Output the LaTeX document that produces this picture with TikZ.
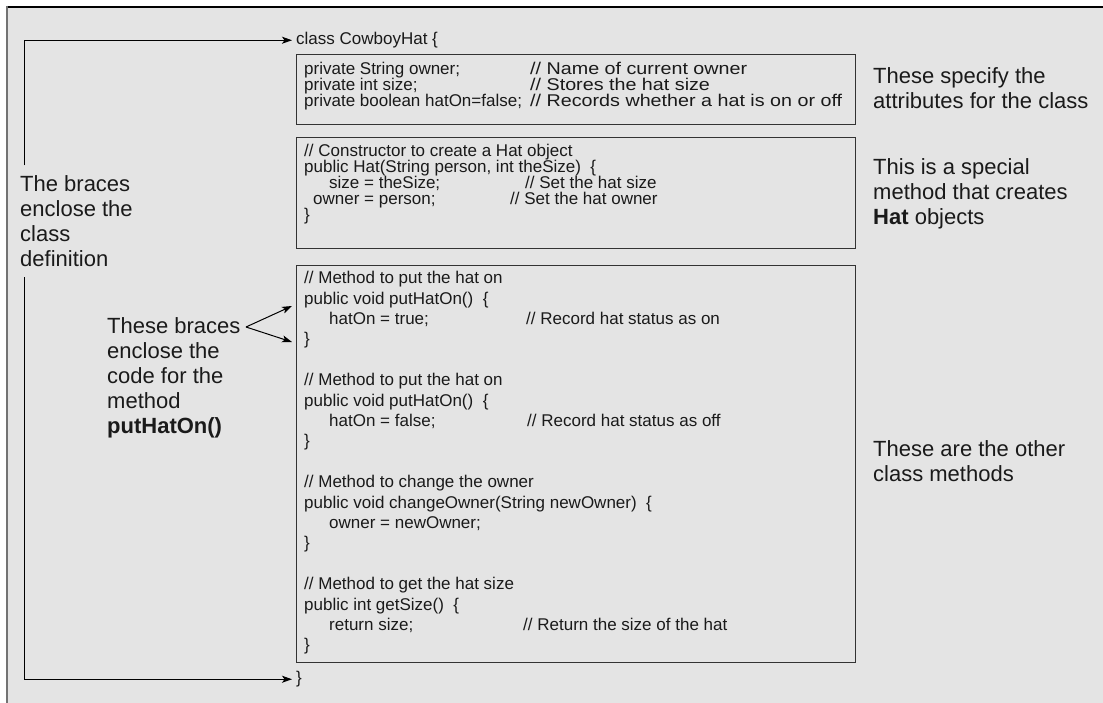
\documentclass[tikz,border=0pt]{standalone}
\usepackage{fontspec}
\setmainfont{Liberation Sans}
\newfontfamily\widecode[FakeStretch=1.16]{Liberation Sans}
\usetikzlibrary{arrows.meta}
\definecolor{bggray}{HTML}{E4E4E4}
\definecolor{ink}{HTML}{1A1A1A}
\begin{document}
\begin{tikzpicture}[x=1pt,y=-1pt,
  code/.style={anchor=mid west,inner sep=0pt,text=ink,font=\fontsize{17}{20}\selectfont},
  codew/.style={code,font=\widecode\fontsize{17}{20}\selectfont},
  lab/.style={anchor=north west,inner sep=0pt,align=left,text=ink,font=\fontsize{22}{25}\selectfont},
  codebox/.style={draw=black!80,line width=1pt,anchor=north west,inner sep=0pt,minimum width=559pt},
  arr/.style={-{Stealth[length=10pt,width=7pt,inset=2.5pt]},line width=1pt,black}]
\useasboundingbox (0,0) rectangle (1103,703);
\fill[white] (0,0) rectangle (1103,703);
\fill[bggray] (7,7) rectangle (1103,703);
\draw[black,line width=2pt] (6,7) -- (1103,7);
\draw[black!55,line width=2pt] (7,6) -- (7,703);

% code boxes
\node[codebox,minimum height=70pt] (attr) at (296,54) {};
\node[codebox,minimum height=111pt] (ctor) at (296,137) {};
\node[codebox,minimum height=397pt] (meth) at (296,265) {};

% class header / footer
\node[code] (cOpen) at (296,42) {class CowboyHat \{};
\node[code] (cClose) at (296,681) {\}};

% attributes
\node[code] (a1) at (304,72) {private String owner;};
\node[codew] (a1c) at (530,72) {// Name of current owner};
\node[code] (a2) at (304,88) {private int size;};
\node[codew] (a2c) at (530,88) {// Stores the hat size};
\node[code] (a3) at (304,104) {private boolean hatOn=false;};
\node[codew] (a3c) at (530,104) {// Records whether a hat is on or off};

% constructor
\node[code] (k1) at (304,154) {// Constructor to create a Hat object};
\node[code] (k2) at (304,170) {public Hat(String person, int theSize) ~\{};
\node[code] (k3) at (329,186) {size = theSize;};
\node[code] (k3c) at (525,186) {// Set the hat size};
\node[code] (k4) at (313,202) {owner = person;};
\node[code] (k4c) at (510,202) {// Set the hat owner};
\node[code] (k5) at (304,218) {\}};

% methods
\node[code] (m1) at (304,281) {// Method to put the hat on};
\node[code] (m2) at (304,301.4) {public void putHatOn() ~\{};
\node[code] (m3) at (329,321.8) {hatOn = true;};
\node[code] (m3c) at (526,321.8) {// Record hat status as on};
\node[code] (m4) at (304,342.2) {\}};
\node[code] (m6) at (304,383) {// Method to put the hat on};
\node[code] (m7) at (304,403.4) {public void putHatOn() ~\{};
\node[code] (m8) at (329,423.8) {hatOn = false;};
\node[code] (m8c) at (527,423.8) {// Record hat status as off};
\node[code] (m9) at (304,444.2) {\}};
\node[code] (m11) at (304,485) {// Method to change the owner};
\node[code] (m12) at (304,505.4) {public void changeOwner(String newOwner) ~\{};
\node[code] (m13) at (329,525.8) {owner = newOwner;};
\node[code] (m14) at (304,546.2) {\}};
\node[code] (m16) at (304,587) {// Method to get the hat size};
\node[code] (m17) at (304,607.4) {public int getSize() ~\{};
\node[code] (m18) at (329,627.8) {return size;};
\node[code] (m18c) at (523,627.8) {// Return the size of the hat};
\node[code] (m19) at (304,648.2) {\}};

% labels
\node[lab] (bracesL) at (20,175.5) {The braces\\enclose the\\class\\definition};
\node[lab] (bracesM) at (107,317.5) {These braces\\enclose the\\code for the\\method\\\textbf{putHatOn()}};
\node[lab] (attrL) at (873,67.5) {These specify the\\attributes for the class};
\node[lab] (ctorL) at (873,158.5) {This is a special\\method that creates\\\textbf{Hat} objects};
\node[lab] (methL) at (873,440.5) {These are the other\\class methods};

% class braces connector
\coordinate (vx) at (24,0);
\coordinate (topL) at ([yshift=10pt]bracesL.north);
\coordinate (botL) at ([yshift=-10pt]bracesL.south);
\draw[arr] (topL -| vx) |- ([xshift=-4pt]cOpen.west);
\draw[arr] (botL -| vx) |- ([xshift=-4pt]cClose.west);

% method braces connectors
\coordinate (apex) at (246,327);
\coordinate (tipA) at (292,306);
\coordinate (tipB) at (292,342);
\draw[arr] (apex) -- (tipA);
\draw[arr] (apex) -- (tipB);
\end{tikzpicture}
\end{document}
